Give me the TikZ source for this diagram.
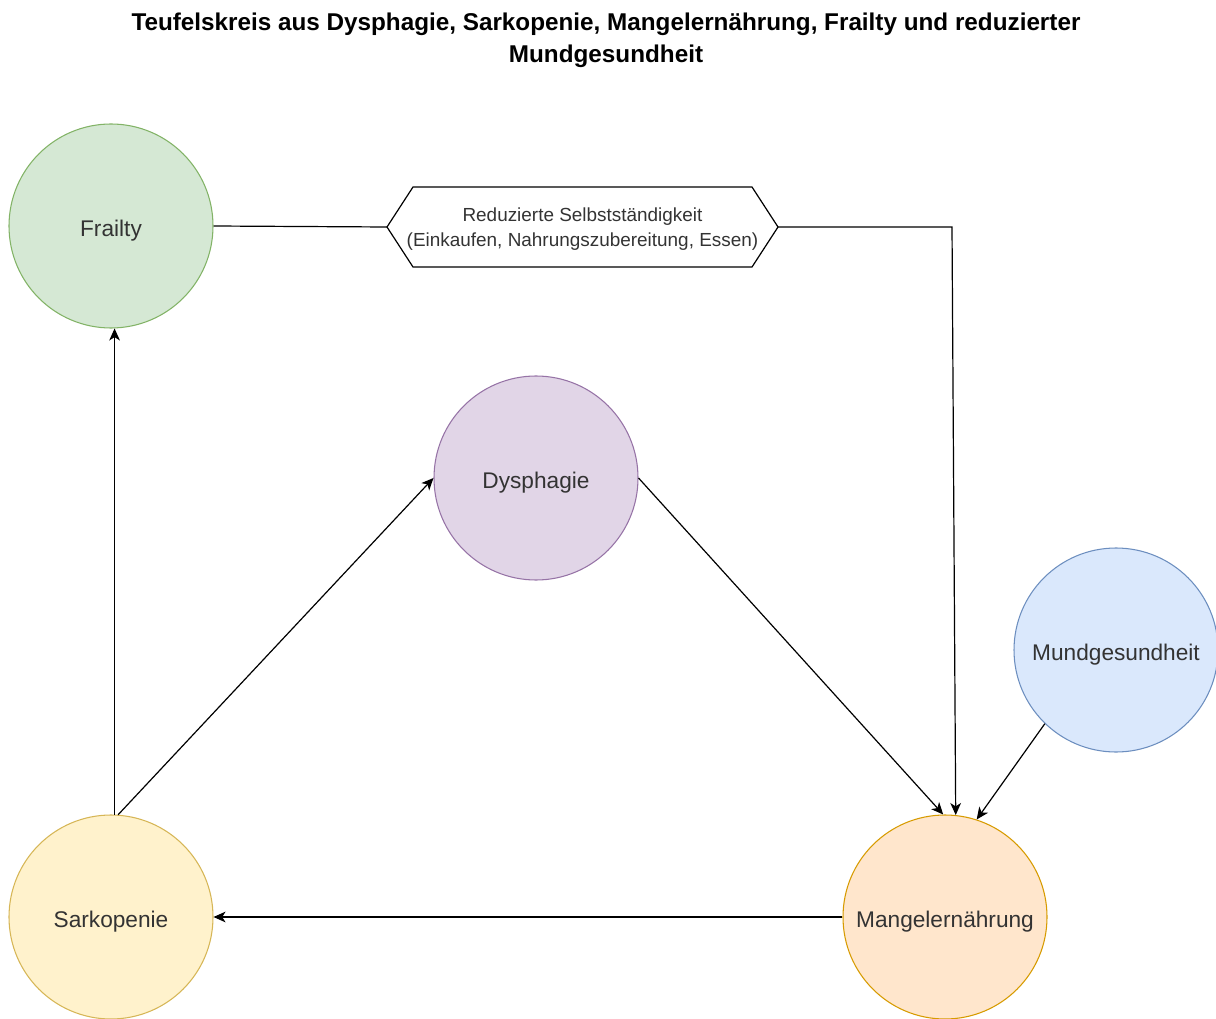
\documentclass[tikz,border=0pt]{standalone}
\usepackage{fontspec}
\setmainfont{Liberation Sans}
\usepackage {tikz}
\usetikzlibrary{arrows.meta}
\definecolor{frailfill}{HTML}{D5E8D4}
\definecolor{frailline}{HTML}{82B366}
\definecolor{dysfill}{HTML}{E1D5E7}
\definecolor{dysline}{HTML}{9673A6}
\definecolor{mundfill}{HTML}{DAE8FC}
\definecolor{mundline}{HTML}{6C8EBF}
\definecolor{sarkfill}{HTML}{FFF2CC}
\definecolor{sarkline}{HTML}{D6B656}
\definecolor{mangelfill}{HTML}{FFE6CC}
\definecolor{mangelline}{HTML}{D79B00}
\tikzset{
    disease/.style = {circle,draw,minimum size=153pt,inner sep=0pt,line width=0.8pt,text=black!80,
        font=\fontsize{17}{20}\selectfont,text height=17pt,text depth=1.7pt},
    frail/.style = {disease,fill=frailfill,draw=frailline},
    dys/.style = {disease,fill=dysfill,draw=dysline},
    mund/.style = {disease,fill=mundfill,draw=mundline},
    sark/.style = {disease,fill=sarkfill,draw=sarkline},
    mangel/.style = {disease,fill=mangelfill,draw=mangelline},
    hexbox/.style = {inner sep=0pt,align=center,text=black!80,font=\fontsize{14.2}{18.8}\selectfont},
    arrow/.style = {-{Stealth[length=9pt,width=8pt,inset=2.5pt]},line width=0.9pt}}
\begin{document}
\begin{tikzpicture}[x=0.75pt,y=-0.75pt]
    \useasboundingbox (0,0) rectangle (1216,1019);
    \node[align=center,font=\bfseries\fontsize{18.2}{24}\selectfont] (title) at (606,40)
        {Teufelskreis aus Dysphagie, Sarkopenie, Mangelernährung, Frailty und reduzierter\\Mundgesundheit};
    \node[frail] (frailty) at (111,226) {Frailty};
    \node[dys] (dysphagie) at (536,478) {Dysphagie};
    \node[mund] (mundg) at (1116,650) {Mundgesundheit};
    \node[sark] (sarkopenie) at (111,917) {Sarkopenie};
    \node[mangel] (mangel) at (945,917) {Mangelernährung};
    % hexagon round the text
    \coordinate (selbstL) at (387,227);
    \coordinate (selbstR) at (778,227);
    \draw[line width=0.9pt] (selbstL) -- (413,187) -- (752,187) -- (selbstR) -- (752,267) -- (413,267) -- cycle;
    \node[hexbox] (selbst) at (582.5,229) {Reduzierte Selbstständigkeit\\(Einkaufen, Nahrungszubereitung, Essen)};
    \coordinate (bend) at (952,227);
    \draw[line width=0.9pt] (frailty.east) -- (selbstL);
    \draw[arrow] (selbstR) -- (bend) -- (mangel.84);
    \draw[arrow] (dysphagie.east) -- (mangel.91);
    \draw[arrow] (mundg.226) -- (mangel.72);
    \draw[arrow] (sarkopenie.88) -- (frailty.272);
    \draw[arrow] (sarkopenie.86) -- (dysphagie.west);
    \draw[arrow] (mangel.west) -- (sarkopenie.east);
\end{tikzpicture}
\end{document}
